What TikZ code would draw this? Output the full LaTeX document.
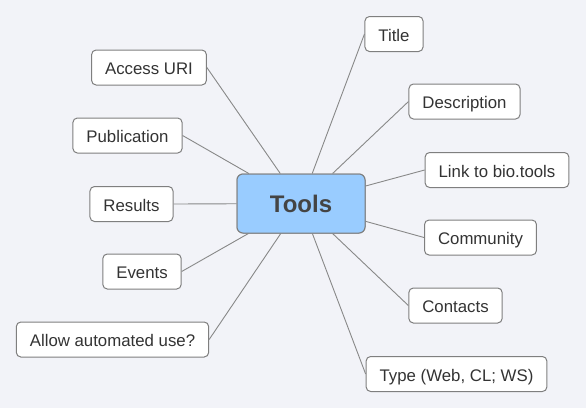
\documentclass[tikz,border=0pt]{standalone}
\usepackage{fontspec}
\setmainfont{Liberation Sans}
\definecolor{bgcol}{HTML}{F2F3F8}
\definecolor{edgecol}{HTML}{888888}
\definecolor{boxline}{HTML}{7F7F7F}
\definecolor{txtcol}{HTML}{333333}
\definecolor{rootfill}{HTML}{99CCFF}
\definecolor{roottxt}{HTML}{444444}
\tikzset{
  leaf/.style={draw=boxline, line width=1pt, fill=white, rounded corners=4.5pt,
    text=txtcol, font=\fontsize{16.8}{18}\selectfont, inner xsep=13.5pt,
    inner ysep=0pt, minimum height=35pt, text height=14pt, text depth=0pt},
  root/.style={draw=boxline, line width=1pt, fill=rootfill, rounded corners=6pt,
    text=roottxt, font=\fontsize{24}{26}\bfseries\selectfont,
    minimum width=128pt, minimum height=59pt},
  link/.style={draw=edgecol, line width=0.9pt}
}
\begin{document}
\begin{tikzpicture}[x=1pt,y=-1pt]
  \fill[bgcol] (0,0) rectangle (586,408);
  \useasboundingbox (0,0) rectangle (586,408);

  \node[root] (tools) at (301,203.5) {Tools};

  % right-hand branches
  \node[leaf] (title) at (394,34)    {Title};
  \node[leaf] (desc)  at (464.5,101.5) {Description};
  \node[leaf] (biot)  at (497,170)   {Link to bio.tools};
  \node[leaf] (comm)  at (480.5,237.5) {Community};
  \node[leaf] (cont)  at (455.5,305.5) {Contacts};
  \node[leaf] (type)  at (456.5,374) {Type (Web, CL; WS)};

  % left-hand branches
  \node[leaf] (acc)   at (149,67.5)  {Access URI};
  \node[leaf] (pub)   at (127.5,135.5) {Publication};
  \node[leaf] (res)   at (131.5,204) {Results};
  \node[leaf] (evt)   at (142,271.5) {Events};
  \node[leaf] (auto)  at (112.5,339.5) {Allow automated use?};

  % connectors from the central box to each branch
  \foreach \n in {title,desc,biot,comm,cont,type}
    \draw[link] (tools) -- (\n.west);
  \foreach \n in {acc,pub,res,evt,auto}
    \draw[link] (tools) -- (\n.east);

  % redraw the central box on top of the connector ends
  \node[root] at (301,203.5) {Tools};
\end{tikzpicture}
\end{document}
